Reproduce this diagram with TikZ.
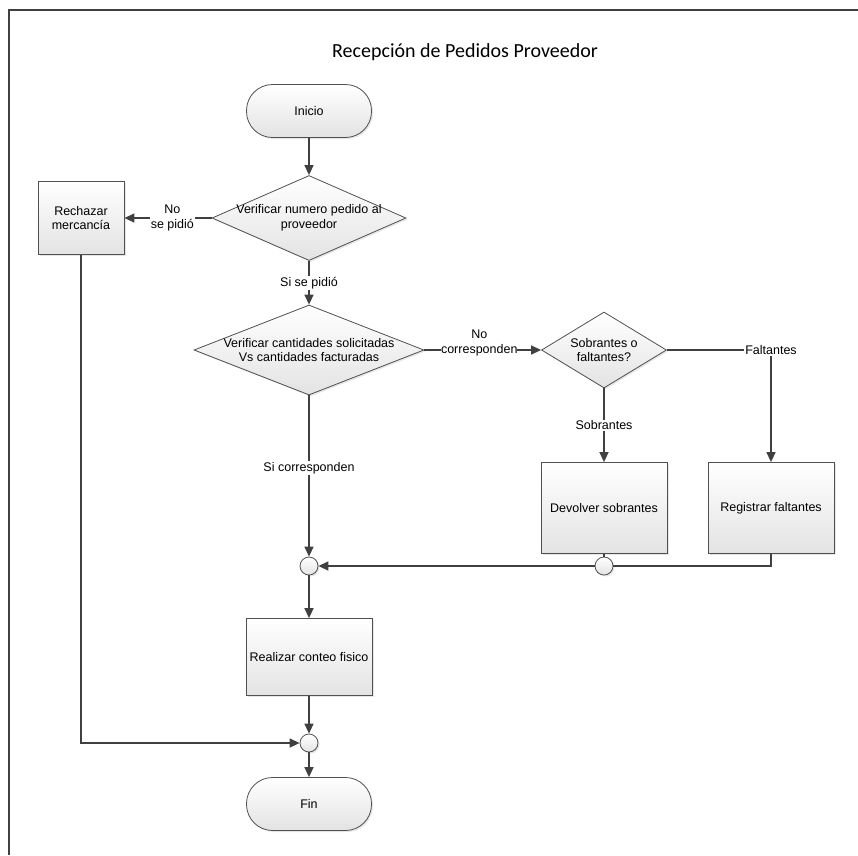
\documentclass[tikz,border=0pt]{standalone}
\usepackage{fontspec}
\setmainfont{Liberation Sans}
\newfontfamily\titlefont{Carlito}
\usetikzlibrary{shapes.geometric,arrows.meta,shadows}
\definecolor{linec}{HTML}{404040}
\definecolor{edgec}{HTML}{505050}

\begin{document}
\begin{tikzpicture}[x=1pt,y=-1pt,
  txt/.style={font=\fontsize{12.5}{14.5}\selectfont, align=center, text=black},
  conn/.style={draw=linec, line width=1.4pt},
  arr/.style={conn, -{Triangle[length=10pt,width=9pt]}},
  filled/.style={top color=white, bottom color=black!11, draw=edgec, line width=0.8pt,
    drop shadow={opacity=0.2, shadow xshift=1.5pt, shadow yshift=-1.5pt}},
  terminal/.style={filled, txt, rectangle, rounded corners=26pt,
    minimum width=125pt, minimum height=53pt},
  process/.style={filled, txt, rectangle, minimum width=126pt, minimum height=77pt},
  decision/.style={filled, diamond, inner sep=0pt},
  junction/.style={filled, circle, minimum size=18pt, inner sep=0pt},
  edgelbl/.style={txt, fill=white, inner sep=1pt}
]
\useasboundingbox (0,0) rectangle (858,855);

% page frame
\draw[line width=2pt, black!75] (9,855) -- (9,10) -- (858,10);

% title
\node[font=\titlefont\fontsize{20}{24}\selectfont] (title) at (465,52) {Recepción de Pedidos Proveedor};

% shapes
\node[terminal] (ini) at (309,111) {Inicio};

\node[decision, minimum width=194pt, minimum height=85pt] (d1) at (309,218) {};
\node[txt] (d1t) at (d1) {Verificar numero pedido al\\proveedor};

\node[process, minimum width=86pt, minimum height=73pt] (rech) at (81,218) {Rechazar\\mercancía};

\node[decision, minimum width=230pt, minimum height=90pt] (d2) at (309,350) {};
\node[txt] (d2t) at (d2) {Verificar cantidades solicitadas\\Vs cantidades facturadas};

\node[decision, minimum width=125pt, minimum height=76pt] (d3) at (604,350) {};
\node[txt] (d3t) at (d3) {Sobrantes o\\faltantes?};

\node[process, minimum height=91pt] (dev) at (604,508) {Devolver sobrantes};
\node[process, minimum height=91pt] (reg) at (771,508) {Registrar faltantes};

\node[junction] (c1) at (309,566) {};
\node[junction] (c2) at (604,566) {};

\node[process] (conteo) at (309,657) {Realizar conteo fisico};

\node[junction] (c3) at (309,743) {};

\node[terminal] (fin) at (309,804) {Fin};

% connectors
\draw[arr] (ini) -- (d1.north);
\draw[arr] (d1.west) -- (rech.east)
  node[edgelbl, pos=0.45] (lno) {No\\se pidió};
\draw[arr] (d1.south) -- (d2.north)
  node[edgelbl, midway] (lsi) {Si se pidió};
\draw[arr] (d2.east) -- (d3.west)
  node[edgelbl, pos=0.47, yshift=7pt, inner sep=0pt] (lnc) {No\\corresponden};
\draw[arr] (d3.east) -| (reg.north)
  node[edgelbl, pos=0.5] (lfal) {Faltantes};
\draw[arr] (d3.south) -- (dev.north)
  node[edgelbl, midway] (lsob) {Sobrantes};
\draw[arr] (d2.south) -- (c1.north)
  node[edgelbl, pos=0.45] (lsic) {Si corresponden};
\draw[conn] (dev.south) -- (c2.north);
\draw[conn] (reg.south) |- (c2.east);
\draw[arr] (c2.west) -- (c1.east);
\draw[arr] (c1.south) -- (conteo.north);
\draw[arr] (conteo.south) -- (c3.north);
\draw[arr] (rech.south) |- (c3.west);
\draw[arr] (c3.south) -- (fin.north);
\end{tikzpicture}
\end{document}
